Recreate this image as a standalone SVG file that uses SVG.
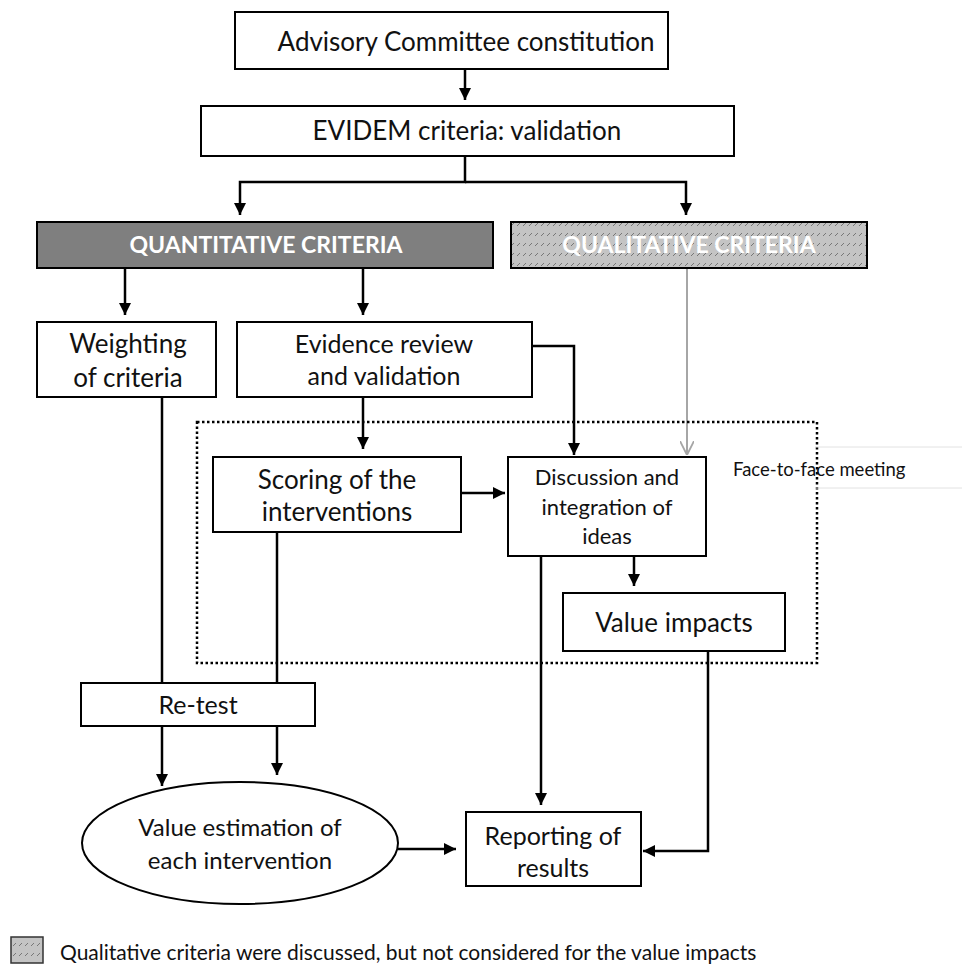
<svg xmlns="http://www.w3.org/2000/svg" width="962" height="966" viewBox="0 0 962 966">
<style>
.box{fill:#fff;stroke:#000;stroke-width:2}
.t{font-family:Lato,"Liberation Sans",sans-serif;fill:#111;text-anchor:middle}
.c{stroke:#000;stroke-width:2.5;fill:none}
.g{stroke:#a6a6a6;stroke-width:2;fill:none}
</style>
<defs>
<marker id="ah" markerWidth="12" markerHeight="12" refX="10" refY="5" orient="auto" markerUnits="userSpaceOnUse" viewBox="0 0 10 10"><path d="M0,0 L10,5 L0,10 z" fill="#000"/></marker>
<marker id="ao" markerWidth="14" markerHeight="14" refX="10" refY="5" orient="auto" markerUnits="userSpaceOnUse" viewBox="0 0 10 10"><path d="M0,0 L10,5 L0,10" fill="none" stroke="#a6a6a6" stroke-width="1.3"/></marker>
<pattern id="hatch" width="6" height="10" patternUnits="userSpaceOnUse">
<rect width="6" height="10" fill="#c4c4c4"/>
<path d="M1,6 L4,3" stroke="#6e6e6e" stroke-width="0.9"/>
</pattern>
</defs>

<g id="connectors">
<line class="c" x1="465" y1="70" x2="465" y2="100" marker-end="url(#ah)"/>
<polyline class="c" points="465,156 465,182 240,182 240,215" marker-end="url(#ah)"/>
<polyline class="c" points="465,182 686,182 686,215" marker-end="url(#ah)"/>
<line class="c" x1="125" y1="268" x2="125" y2="315" marker-end="url(#ah)"/>
<line class="c" x1="363" y1="268" x2="363" y2="315" marker-end="url(#ah)"/>
<polyline class="c" points="532,346 574,346 574,455" marker-end="url(#ah)"/>
<line class="c" x1="363" y1="397" x2="363" y2="449" marker-end="url(#ah)"/>
<line class="g" x1="687" y1="268" x2="687" y2="455" marker-end="url(#ao)"/>
<line class="c" x1="461" y1="493" x2="505" y2="493" marker-end="url(#ah)"/>
<line class="c" x1="634" y1="556" x2="634" y2="586" marker-end="url(#ah)"/>
<polyline class="c" points="708,651 708,851 643,851" stroke-width="2" marker-end="url(#ah)"/>
<line class="c" x1="541" y1="556" x2="541" y2="805" marker-end="url(#ah)"/>
<line class="c" x1="162" y1="397" x2="162" y2="683"/>
<line class="c" x1="162" y1="726" x2="162" y2="786" marker-end="url(#ah)"/>
<line class="c" x1="277" y1="532" x2="277" y2="683"/>
<line class="c" x1="277" y1="726" x2="277" y2="775" marker-end="url(#ah)"/>
<line class="c" x1="398" y1="849" x2="456" y2="849" marker-end="url(#ah)"/>
</g>

<g id="meeting-area">
<rect x="197" y="422" width="620" height="241" fill="none" stroke="#000" stroke-width="2.5" stroke-dasharray="2.5,2.5"/>
<line x1="815" y1="447" x2="962" y2="447" stroke="#e2e2e2" stroke-width="1"/>
<line x1="815" y1="488" x2="962" y2="488" stroke="#e2e2e2" stroke-width="1"/>
<text class="t" x="733" y="476" font-size="18.5" style="text-anchor:start">Face-to-face meeting</text>
</g>

<g id="advisory">
<rect class="box" x="235" y="12" width="433" height="57"/>
<text class="t" x="466" y="51" font-size="26">Advisory Committee constitution</text>
</g>
<g id="evidem">
<rect class="box" x="201" y="106" width="533" height="50"/>
<text class="t" x="467" y="140" font-size="26">EVIDEM criteria: validation</text>
</g>
<g id="quantitative">
<rect x="37" y="222" width="456" height="46" fill="#7f7f7f" stroke="#000" stroke-width="2"/>
<text class="t" x="266" y="253" font-size="23" font-weight="bold" style="fill:#fff">QUANTITATIVE CRITERIA</text>
</g>
<g id="qualitative">
<rect x="511" y="222" width="356" height="46" fill="url(#hatch)" stroke="#000" stroke-width="2"/>
<text class="t" x="689" y="253" font-size="23" font-weight="bold" style="fill:#fff">QUALITATIVE CRITERIA</text>
</g>
<g id="weighting">
<rect class="box" x="37" y="322" width="179" height="75"/>
<text class="t" x="128" y="353" font-size="26">Weighting</text>
<text class="t" x="128" y="387" font-size="26">of criteria</text>
</g>
<g id="evidence">
<rect class="box" x="237" y="322" width="295" height="75"/>
<text class="t" x="384" y="353" font-size="25">Evidence review</text>
<text class="t" x="384" y="385" font-size="25">and validation</text>
</g>
<g id="scoring">
<rect class="box" x="213" y="457" width="248" height="75"/>
<text class="t" x="337" y="489" font-size="26">Scoring of the</text>
<text class="t" x="337" y="521" font-size="26">interventions</text>
</g>
<g id="discussion">
<rect class="box" x="508" y="457" width="198" height="99"/>
<text class="t" x="607" y="485" font-size="22">Discussion and</text>
<text class="t" x="607" y="515" font-size="22">integration of</text>
<text class="t" x="607" y="544" font-size="22">ideas</text>
</g>
<g id="value-impacts">
<rect class="box" x="563" y="593" width="222" height="58"/>
<text class="t" x="674" y="632" font-size="26">Value impacts</text>
</g>
<g id="retest">
<rect class="box" x="81" y="683" width="234" height="43"/>
<text class="t" x="198" y="714" font-size="25">Re-test</text>
</g>
<g id="value-estimation">
<ellipse class="box" cx="240" cy="843" rx="158" ry="61"/>
<text class="t" x="240" y="836" font-size="24">Value estimation of</text>
<text class="t" x="240" y="869" font-size="24">each intervention</text>
</g>
<g id="reporting">
<rect class="box" x="466" y="812" width="175" height="74"/>
<text class="t" x="553" y="845" font-size="25">Reporting of</text>
<text class="t" x="553" y="877" font-size="25">results</text>
</g>
<g id="legend">
<rect x="11" y="937" width="32" height="26" fill="url(#hatch)" stroke="#333" stroke-width="1.5"/>
<text class="t" x="60" y="960" font-size="21" style="text-anchor:start">Qualitative criteria were discussed, but not considered for the value impacts</text>
</g>
</svg>
